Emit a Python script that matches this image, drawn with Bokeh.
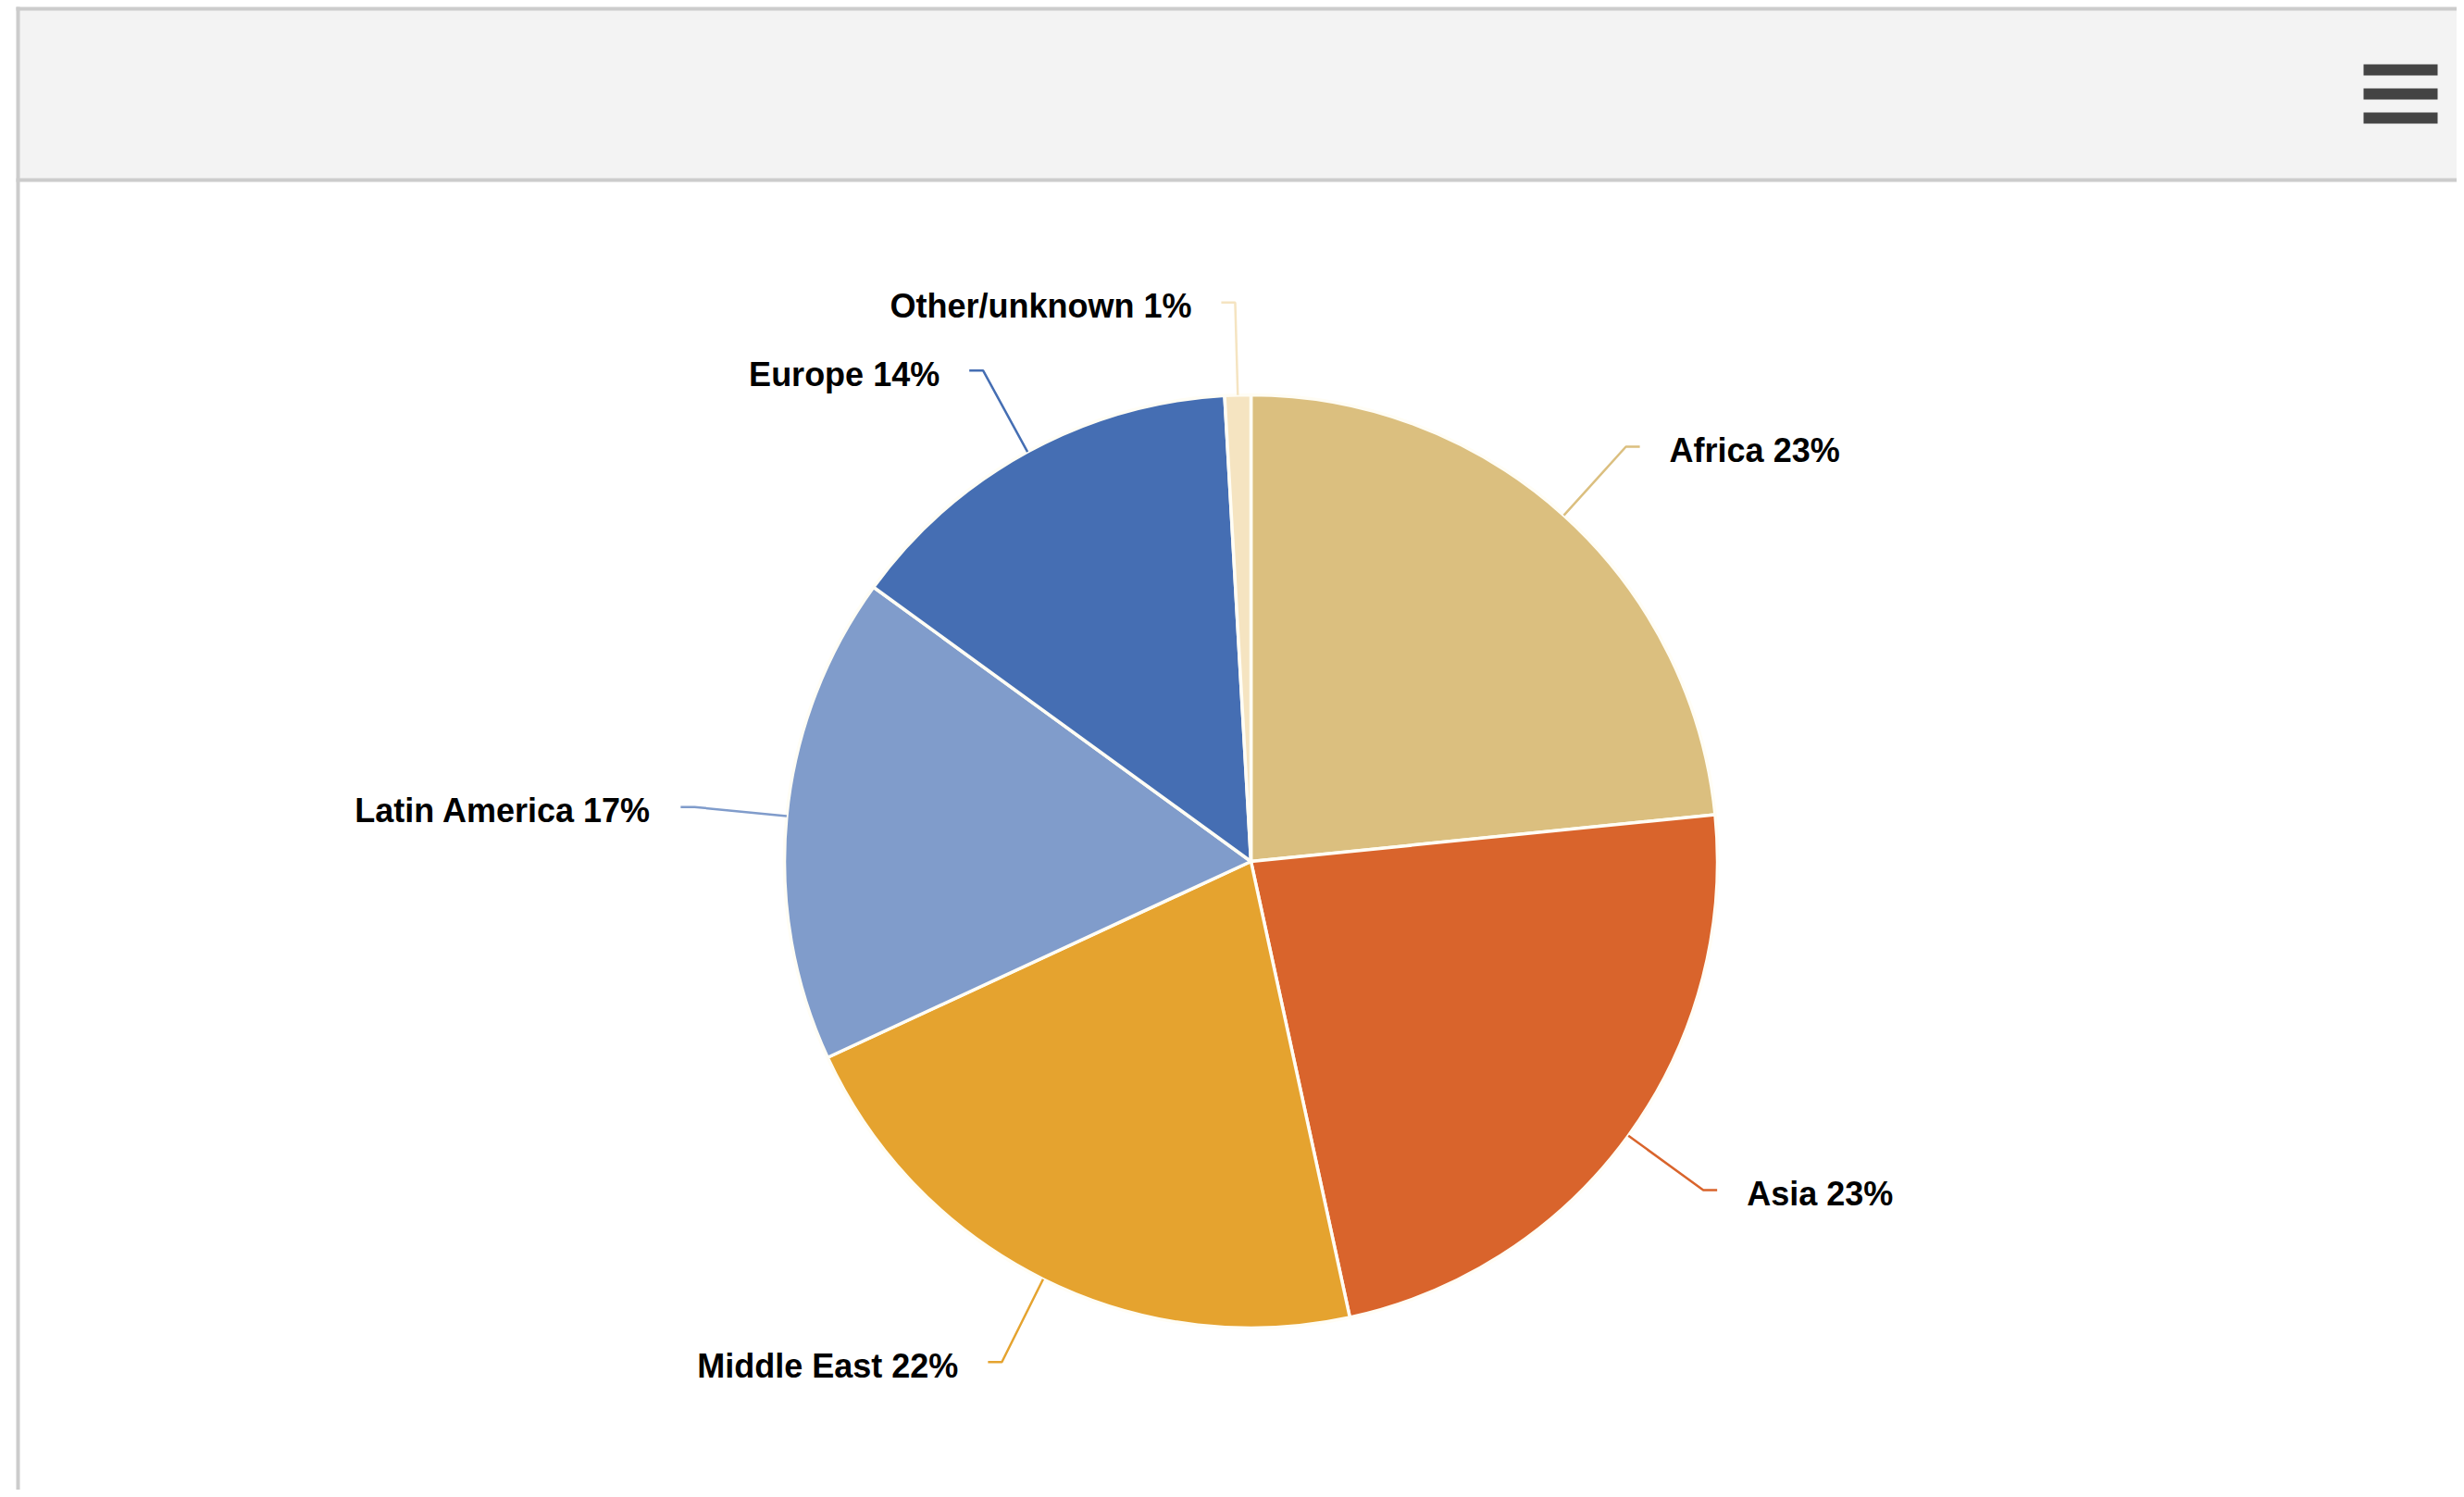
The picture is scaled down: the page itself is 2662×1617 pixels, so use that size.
import numpy as np
from bokeh.plotting import figure
from bokeh.models import Range1d, ColumnDataSource
from bokeh.core.properties import value
from bokeh.embed import file_html
from bokeh.resources import INLINE

# ---- data ----
categories = ["Africa", "Asia", "Middle East", "Latin America", "Europe", "Other/unknown"]
shares = [23.4, 23.2, 21.5, 16.9, 14.1, 0.9]
colors = ["#DBBF7F", "#D9642C", "#E5A32F", "#809CCB", "#456EB3", "#F5E4C1"]

# ---- layout (page pixel coordinates; y is negated for the plot) ----
W, H = 2654, 1609
OX, OY = 0, 0
CX, CY = 1351, 930
R = 504
BREAK = 100
HSEG = 15
GAP = 32

p = figure(width=W, height=H, output_backend="svg", toolbar_location=None,
           x_range=Range1d(OX, OX + W), y_range=Range1d(-(OY + H), -OY),
           min_border=0, outline_line_color=None)
p.axis.visible = False
p.grid.visible = False
p.background_fill_color = "white"
p.border_fill_color = "white"

# header band
p.quad(left=[19], right=[OX + W + 10], top=[-9], bottom=[-194],
       fill_color="#F3F3F3", line_color=None)
p.segment(x0=[17, 17], y0=[-9, -194], x1=[OX + W + 10, OX + W + 10], y1=[-9, -194],
          line_color="#CCCCCC", line_width=4)
p.segment(x0=[19], y0=[-7], x1=[19], y1=[-(OY + H + 10)],
          line_color="#CCCCCC", line_width=4)

# hamburger icon
p.segment(x0=[2553] * 3, x1=[2633] * 3, y0=[-75, -101, -127], y1=[-75, -101, -127],
          line_color="#444444", line_width=12)

# pie
vals = np.array(shares, dtype=float)
frac = vals / vals.sum()
cum_end = np.cumsum(frac)
cum_start = cum_end - frac
start_ang = np.pi / 2 - 2 * np.pi * cum_end
end_ang = np.pi / 2 - 2 * np.pi * cum_start

src = ColumnDataSource(dict(cat=categories, start=start_ang, end=end_ang, color=colors))
p.wedge(x=CX, y=-CY, radius=R, radius_units="screen", start_angle="start", end_angle="end",
        direction="anticlock", fill_color="color", line_color="#FFFDF5", line_width=3.5,
        source=src)

# labels & connectors
mid = 2 * np.pi * (cum_start + frac / 2)  # clockwise from top
xs, ys, tx, ty, tt, al = [], [], [], [], [], []
for i, cat in enumerate(categories):
    a = mid[i]
    sx, sy = CX + R * np.sin(a), CY - R * np.cos(a)
    ex, ey = CX + (R + BREAK) * np.sin(a), CY - (R + BREAK) * np.cos(a)
    side = 1 if np.sin(a) >= 0 else -1
    hx = ex + side * HSEG
    xs.append([sx, ex, hx])
    ys.append([-sy, -ey, -ey])
    tx.append(ex + side * (HSEG + GAP))
    ty.append(-(ey + 4))
    tt.append(f"{cat} {round(shares[i])}%")
    al.append("left" if side > 0 else "right")

p.multi_line(xs=xs, ys=ys, line_color=colors, line_width=2.5)
lsrc = ColumnDataSource(dict(x=tx, y=ty, t=tt, a=al))
p.text(x="x", y="y", text="t", text_align="a", source=lsrc,
       text_font=value("Liberation Sans"), text_font_style="bold",
       text_font_size="36px", text_baseline="middle", text_color="#000000")

open("out.html", "w").write(file_html(p, INLINE))
